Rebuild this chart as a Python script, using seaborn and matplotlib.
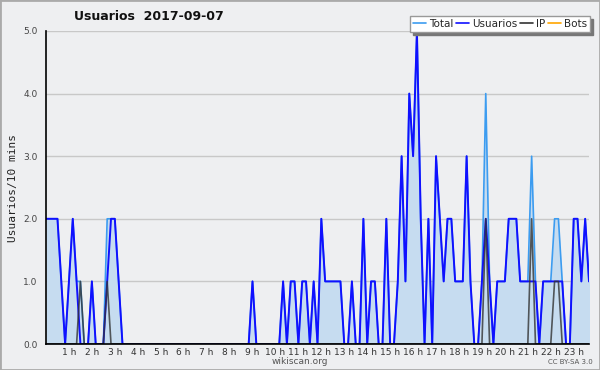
import numpy as np
import pandas as pd
import matplotlib
matplotlib.use("Agg")
import matplotlib.pyplot as plt
import seaborn as sns
from matplotlib.lines import Line2D
from matplotlib.patches import Rectangle

# users per 10-minute bin, 2017-09-07 (144 bins)
usuarios = [2, 2, 2, 2, 1, 0, 1, 2, 1, 0, 0, 0, 1, 0, 0, 0, 1, 2, 2, 1,
            0, 0, 0, 0, 0, 0, 0, 0, 0, 0, 0, 0, 0, 0, 0, 0, 0, 0, 0, 0,
            0, 0, 0, 0, 0, 0, 0, 0, 0, 0, 0, 0, 0, 0, 1, 0, 0, 0, 0, 0,
            0, 0, 1, 0, 1, 1, 0, 1, 1, 0, 1, 0, 2, 1, 1, 1, 1, 1, 0, 0,
            1, 0, 0, 2, 0, 1, 1, 0, 0, 2, 0, 0, 1, 3, 1, 4, 3, 5, 2, 0,
            2, 0, 3, 2, 1, 2, 2, 1, 1, 1, 3, 1, 0, 0, 1, 2, 1, 0, 1, 1,
            1, 2, 2, 2, 1, 1, 1, 1, 1, 0, 1, 1, 1, 1, 1, 1, 0, 0, 2, 2,
            1, 2, 1, 1]
ip = [0] * 144
ip[9] = 1
ip[16] = 1
ip[115] = 2
ip[127] = 2
ip[133] = 1
ip[134] = 1
bots = [0] * 144

df = pd.DataFrame({"bin": np.arange(144), "Usuarios": usuarios, "IP": ip, "Bots": bots})
df["Total"] = df["Usuarios"] + df["IP"] + df["Bots"]

hour_labels = [f"{h} h" for h in range(1, 24)]

bg = "#eeeff1"
c_total = "#3c9cf0"
c_fill = "#c6dcf0"
c_user = "#1010ff"
c_ip = "#333333"
c_bots = "#ffa500"

sns.set_style("white", {"axes.facecolor": bg, "figure.facecolor": bg})
plt.rcParams["font.family"] = ["DejaVu Sans"]

fig = plt.figure(figsize=(6, 3.7), dpi=100)
ax = fig.add_axes([46 / 600, 1 - 344 / 370, 543 / 600, 313 / 370])

# grid lines
for v in range(1, 6):
    ax.axhline(v, color="#c8c8c8", lw=1, zorder=0)

ax.fill_between(df["bin"], df["Total"], color=c_fill, lw=0, zorder=1)
sns.lineplot(data=df, x="bin", y="Total", color=c_total, lw=1.2, ax=ax, zorder=2)
sns.lineplot(data=df, x="bin", y="Usuarios", color=c_user, lw=1.4, ax=ax, zorder=3)
sns.lineplot(data=df, x="bin", y="IP", color=c_ip, lw=1.2, alpha=0.8, ax=ax, zorder=4)
sns.lineplot(data=df, x="bin", y="Bots", color=c_bots, lw=1, ax=ax, zorder=0.5)

ax.set_xlim(0, 142)
ax.set_ylim(0, 5)
ax.set_xlabel("")
ax.set_ylabel("Usuarios/10 mins", family="DejaVu Sans Mono", fontsize=8, color="#222222", labelpad=4)

ax.set_xticks(np.arange(6, 144, 6))
ax.set_xticklabels(hour_labels, fontsize=6.5, color="#333333")
ax.set_xticks(np.arange(0, 143, 1), minor=True)
ax.set_yticks(np.arange(0, 6, 1))
ax.set_yticklabels([f"{v:.1f}" for v in range(6)], fontsize=6.5, color="#444444")
ax.set_yticks(np.arange(0, 5.01, 0.2), minor=True)
ax.tick_params(axis="x", which="both", direction="out", length=3, width=1, pad=0, color="black")
ax.tick_params(axis="y", which="major", direction="out", length=5, width=1, pad=1)
ax.tick_params(axis="y", which="minor", direction="out", length=3, width=1)

for s in ["top", "right"]:
    ax.spines[s].set_visible(False)
for s in ["left", "bottom"]:
    ax.spines[s].set_color("black")
    ax.spines[s].set_linewidth(1.2)
    ax.spines[s].set_zorder(5)

fig.text(149 / 600, 1 - 17 / 370, "Usuarios  2017-09-07", fontsize=9, fontweight="bold",
         ha="center", va="center", color="#111111")
fig.text(300 / 600, 1 - 362 / 370, "wikiscan.org", fontsize=6.5, ha="center", va="center", color="#555555")
fig.text(593 / 600, 1 - 362 / 370, "CC BY-SA 3.0", fontsize=5, ha="right", va="center", color="#555555")

handles = [Line2D([0], [0], color=c_total, lw=1.2),
           Line2D([0], [0], color=c_user, lw=1.2),
           Line2D([0], [0], color=c_ip, lw=1.2),
           Line2D([0], [0], color=c_bots, lw=1.2)]
leg = fig.legend(handles, ["Total", "Usuarios", "IP", "Bots"], ncol=4, fontsize=7.5,
                 loc="upper right", bbox_to_anchor=(590 / 600, 1 - 16 / 370),
                 frameon=True, fancybox=False, shadow={"color": "#777777", "alpha": 1},
                 handlelength=1.2, handletextpad=0.3, columnspacing=0.3,
                 borderpad=0.3, borderaxespad=0)
leg.get_frame().set_edgecolor("#999999")
leg.get_frame().set_facecolor("white")
leg.get_frame().set_linewidth(1)

fig.patches.append(Rectangle((0, 0), 1, 1, transform=fig.transFigure, fill=False,
                             edgecolor="#aaaaaa", lw=2))

fig.savefig("out.png", dpi=100, facecolor=bg)
